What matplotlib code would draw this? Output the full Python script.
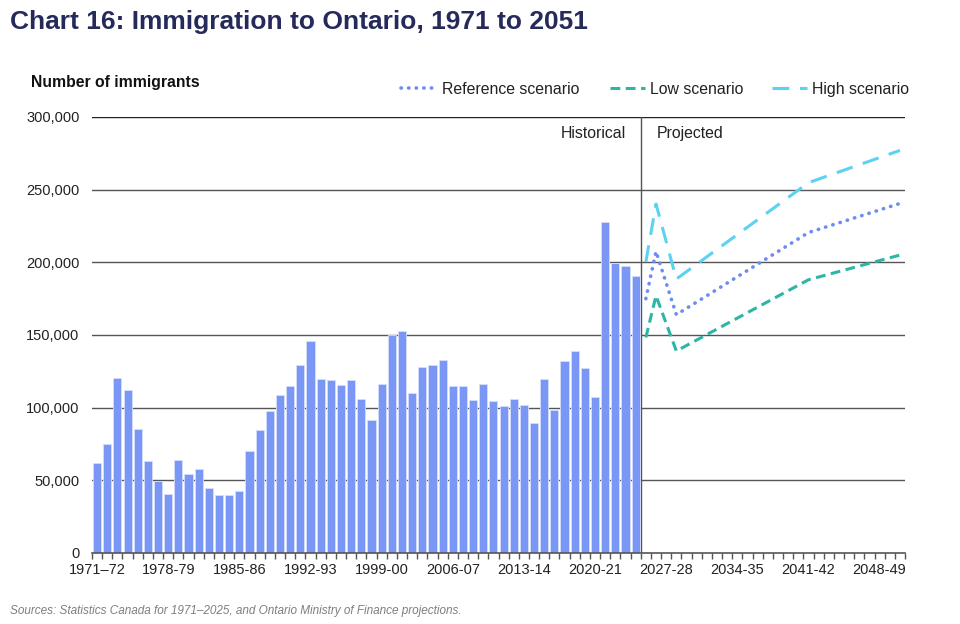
import numpy as np
import matplotlib
matplotlib.use('Agg')
import matplotlib.pyplot as plt
from matplotlib.lines import Line2D
from matplotlib.ticker import FuncFormatter, FixedLocator

plt.rcParams['font.family'] = ['Liberation Sans', 'DejaVu Sans']

# fiscal years 1971-72 .. 2050-51
years = ['%d-%02d' % (y, (y + 1) % 100) for y in range(1971, 2051)]
tick_labels = ['1971\u201372', '1978-79', '1985-86', '1992-93', '1999-00',
               '2006-07', '2013-14', '2020-21', '2027-28', '2034-35',
               '2041-42', '2048-49']

# historical immigration, 1971-72 .. 2024-25
historical = [61900, 75200, 120400, 112400, 85500, 63300, 49800, 40400, 64000, 54600,
              57800, 44500, 39900, 39900, 42700, 70200, 84600, 97900, 108700, 114900,
              129400, 145900, 119700, 119000, 115600, 119000, 106000, 91300, 116500, 150000,
              153000, 109900, 127800, 129600, 133000, 115100, 114900, 105300, 116300, 104600,
              101400, 105700, 101800, 89400, 120000, 98600, 132100, 139000, 127300, 107600,
              227500, 199300, 197700, 190600]

# projections (turning points)
proj_years = ['2025-26', '2026-27', '2028-29', '2041-42', '2050-51']
reference = [175000, 207500, 164000, 220500, 240500]
low = [148300, 177000, 139000, 188000, 205000]
high = [200300, 240100, 188500, 254800, 277000]

bar_color = '#7B97F6'
ref_color = '#6E8CF0'
low_color = '#2DB6A6'
high_color = '#5CD2F2'

ref_style = dict(color=ref_color, lw=2.6, linestyle=(0, (0.1, 2.0)), dash_capstyle='round')
low_style = dict(color=low_color, lw=2.2, linestyle=(0, (3.2, 1.8)))
high_style = dict(color=high_color, lw=2.2, linestyle=(0, (5.5, 3.5)))

fig = plt.figure(figsize=(9.6, 6.24), dpi=100)
ax = fig.add_axes([92 / 960, 1 - 553 / 624, 813 / 960, 436 / 624])

x_hist = np.arange(len(historical))
ax.bar(x_hist, historical, width=0.8, color=bar_color, edgecolor='#D5DEFC', linewidth=0.6, zorder=2)

px = [years.index(p) for p in proj_years]
ax.plot(px, reference, zorder=3, **ref_style)
ax.plot(px, low, zorder=3, **low_style)
ax.plot(px, high, zorder=3, **high_style)

ax.set_xlim(-0.5, len(years) - 0.5)
ax.set_ylim(0, 300000)
for v in range(50000, 300001, 50000):
    ax.axhline(v, color='#222222' if v == 300000 else '#555555', lw=1.0, zorder=1)
ax.axvline(len(historical) - 0.5, color='#555555', lw=1.0, zorder=1)

ax.text(52.0, 288500, 'Historical', ha='right', va='center', fontsize=11.4, color='#222222')
ax.text(55.1, 288500, 'Projected', ha='left', va='center', fontsize=11.4, color='#222222')

for s in ['top', 'right', 'left']:
    ax.spines[s].set_visible(False)
ax.spines['bottom'].set_color('#555555')
ax.spines['bottom'].set_linewidth(1.2)

ax.set_yticks(range(0, 300001, 50000))
ax.yaxis.set_major_formatter(FuncFormatter(lambda v, p: '{:,.0f}'.format(v)))
ax.tick_params(axis='y', length=0, pad=9, labelsize=10.5, labelcolor='#222222')

ax.set_xticks([years.index(t.replace('\u2013', '-')) for t in tick_labels])
ax.set_xticklabels(tick_labels)
ax.xaxis.set_minor_locator(FixedLocator(np.arange(-0.5, len(years), 1.0)))
ax.tick_params(axis='x', which='major', length=0, pad=7, labelsize=10.5, labelcolor='#222222')
ax.tick_params(axis='x', which='minor', length=4, width=1, color='#555555', direction='out')

fig.text(10 / 960, 1 - 22 / 624, 'Chart 16: Immigration to Ontario, 1971 to 2051', fontsize=19,
         fontweight='bold', color='#262A5A', va='center', ha='left')
fig.text(31 / 960, 1 - 82 / 624, 'Number of immigrants', fontsize=11.3, fontweight='bold',
         color='#111111', va='center', ha='left')
fig.text(10 / 960, 1 - 611 / 624, 'Sources: Statistics Canada for 1971\u20132025, and Ontario Ministry of Finance projections.',
         fontsize=8.5, style='italic', color='#7F7F7F', va='center', ha='left')

# legend, laid out by hand so the three labels share one baseline
leg_y = 1 - 88 / 624
for (x0, x1, label, style) in [(401, 437, 'Reference scenario', ref_style),
                               (610, 645, 'Low scenario', low_style),
                               (772, 807, 'High scenario', high_style)]:
    fig.add_artist(Line2D([x0 / 960, x1 / 960], [leg_y, leg_y], transform=fig.transFigure, **style))
    fig.text((x1 + 5) / 960, leg_y, label, fontsize=11.4, color='#222222', va='center_baseline', ha='left')

fig.savefig('out.png', dpi=100)
